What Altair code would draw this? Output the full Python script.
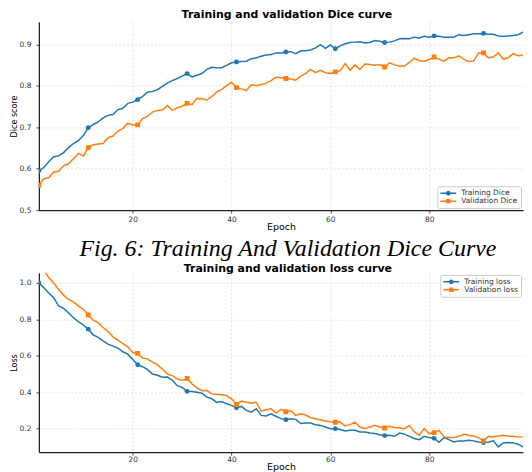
import altair as alt
import pandas as pd

epochs = list(range(1, 101))

train_dice = [0.595, 0.603, 0.617, 0.629, 0.631, 0.639, 0.651, 0.661, 0.668, 0.680,
              0.699, 0.707, 0.713, 0.723, 0.729, 0.731, 0.743, 0.746, 0.758, 0.761,
              0.767, 0.775, 0.785, 0.787, 0.791, 0.799, 0.807, 0.813, 0.818, 0.824,
              0.830, 0.822, 0.826, 0.830, 0.840, 0.845, 0.844, 0.844, 0.850, 0.856,
              0.858, 0.859, 0.860, 0.866, 0.868, 0.872, 0.875, 0.876, 0.880, 0.880,
              0.882, 0.883, 0.878, 0.885, 0.885, 0.887, 0.892, 0.900, 0.891, 0.899,
              0.890, 0.897, 0.902, 0.905, 0.906, 0.907, 0.904, 0.905, 0.910, 0.908,
              0.905, 0.906, 0.909, 0.914, 0.915, 0.914, 0.918, 0.916, 0.920, 0.918,
              0.921, 0.920, 0.918, 0.918, 0.918, 0.924, 0.922, 0.924, 0.926, 0.926,
              0.927, 0.925, 0.925, 0.921, 0.920, 0.921, 0.922, 0.924, 0.930, 0.932]

val_dice = [0.560, 0.576, 0.578, 0.592, 0.594, 0.607, 0.612, 0.624, 0.637, 0.631,
            0.651, 0.658, 0.660, 0.661, 0.675, 0.679, 0.691, 0.697, 0.710, 0.706,
            0.706, 0.721, 0.727, 0.737, 0.741, 0.742, 0.753, 0.741, 0.747, 0.751,
            0.758, 0.755, 0.770, 0.769, 0.766, 0.774, 0.786, 0.792, 0.801, 0.809,
            0.796, 0.793, 0.789, 0.803, 0.801, 0.803, 0.807, 0.813, 0.821, 0.820,
            0.818, 0.817, 0.814, 0.824, 0.830, 0.840, 0.832, 0.838, 0.832, 0.830,
            0.834, 0.837, 0.854, 0.838, 0.851, 0.840, 0.853, 0.852, 0.850, 0.852,
            0.846, 0.856, 0.851, 0.848, 0.848, 0.857, 0.867, 0.861, 0.860, 0.864,
            0.870, 0.865, 0.860, 0.868, 0.868, 0.873, 0.865, 0.859, 0.860, 0.880,
            0.880, 0.868, 0.870, 0.880, 0.865, 0.868, 0.878, 0.873, 0.874, 0.873]

train_loss = [1.000, 0.973, 0.945, 0.918, 0.873, 0.860, 0.836, 0.809, 0.787, 0.769,
              0.746, 0.715, 0.701, 0.682, 0.664, 0.653, 0.642, 0.622, 0.609, 0.580,
              0.551, 0.540, 0.524, 0.500, 0.493, 0.482, 0.484, 0.467, 0.436, 0.427,
              0.405, 0.404, 0.400, 0.395, 0.373, 0.364, 0.344, 0.349, 0.337, 0.328,
              0.315, 0.322, 0.300, 0.291, 0.309, 0.273, 0.270, 0.282, 0.268, 0.255,
              0.249, 0.254, 0.251, 0.228, 0.231, 0.231, 0.222, 0.218, 0.209, 0.200,
              0.200, 0.195, 0.187, 0.191, 0.191, 0.182, 0.182, 0.176, 0.173, 0.167,
              0.162, 0.164, 0.158, 0.176, 0.170, 0.158, 0.146, 0.140, 0.158, 0.151,
              0.147, 0.125, 0.151, 0.140, 0.127, 0.133, 0.133, 0.136, 0.133, 0.127,
              0.124, 0.127, 0.133, 0.100, 0.122, 0.124, 0.122, 0.115, 0.100, 0.095]

val_loss = [1.100, 1.070, 1.030, 1.000, 0.964, 0.933, 0.909, 0.896, 0.873, 0.855,
            0.824, 0.795, 0.782, 0.755, 0.733, 0.704, 0.686, 0.667, 0.649, 0.618,
            0.613, 0.588, 0.583, 0.565, 0.550, 0.527, 0.500, 0.491, 0.473, 0.464,
            0.476, 0.446, 0.424, 0.409, 0.409, 0.391, 0.387, 0.387, 0.382, 0.364,
            0.333, 0.351, 0.345, 0.340, 0.345, 0.296, 0.304, 0.309, 0.286, 0.306,
            0.293, 0.298, 0.273, 0.282, 0.275, 0.260, 0.254, 0.249, 0.242, 0.238,
            0.235, 0.236, 0.215, 0.222, 0.236, 0.209, 0.200, 0.209, 0.218, 0.209,
            0.204, 0.213, 0.206, 0.204, 0.200, 0.218, 0.182, 0.164, 0.200, 0.173,
            0.178, 0.191, 0.155, 0.151, 0.151, 0.158, 0.169, 0.164, 0.160, 0.151,
            0.133, 0.158, 0.155, 0.160, 0.164, 0.158, 0.158, 0.155, 0.155, 0.155]

dice_names = ["Training Dice", "Validation Dice"]
loss_names = ["Training loss", "Validation loss"]
x_ticks = [20, 40, 60, 80]
dice_ticks = [0.5, 0.6, 0.7, 0.8, 0.9]
loss_ticks = [0.2, 0.4, 0.6, 0.8, 1.0]
caption = "Fig. 6: Training And Validation Dice Curve"
dice_title = "Training and validation Dice curve"
loss_title = "Training and validation loss curve"

BLUE = "#1f77b4"
ORANGE = "#ff7f0e"
LINE_CIRCLE = "M-2,-0.19H2V0.19H-2Z M0.6,0A0.6,0.6 0 1,1 -0.6,0A0.6,0.6 0 1,1 0.6,0Z"
LINE_SQUARE = "M-2,-0.19H2V0.19H-2Z M-0.55,-0.55H0.55V0.55H-0.55Z"

W = 486
NBSP = "\u00a0"


def panel(train, val, names, ytitle, ydomain, yticks, height, legend_orient,
          label_pad, title_pad, title):
    df = pd.DataFrame({
        "epoch": epochs + epochs,
        "value": train + val,
        "series": [names[0]] * len(train) + [names[1]] * len(val),
    })
    x = alt.X("epoch:Q",
              scale=alt.Scale(domain=[1, 99], nice=False, zero=False),
              axis=alt.Axis(values=x_ticks, title="Epoch", labelFlush=False,
                            labelPadding=label_pad, tickSize=3, titlePadding=title_pad))
    y = alt.Y("value:Q",
              scale=alt.Scale(domain=ydomain, nice=False, zero=False),
              axis=alt.Axis(values=yticks, format=".1f", title=ytitle,
                            labelPadding=5, tickSize=3, titlePadding=1,
                            titleFont="DejaVu Sans Condensed, Roboto Condensed, Roboto",
                            titleFontSize=9))
    cscale = alt.Scale(domain=names, range=[BLUE, ORANGE])
    leg = alt.Legend(title=None, orient=legend_orient, offset=2,
                     fillColor="white", strokeColor="#cccccc", cornerRadius=2,
                     padding=3, labelFont="DejaVu Sans", labelFontSize=7.5,
                     labelColor="#333333", symbolSize=64, symbolStrokeWidth=0,
                     symbolOpacity=1, symbolOffset=4, rowPadding=-2, labelOffset=9)
    base = alt.Chart(df)
    lines = base.mark_line(strokeWidth=1.5, clip=True).encode(
        x=x, y=y, color=alt.Color("series:N", scale=cscale, legend=None))
    marks = base.transform_filter("(datum.epoch - 1) % 10 == 0").mark_point(
        filled=True, size=24, opacity=1, clip=True).encode(
        x=x, y=y,
        color=alt.Color("series:N", scale=cscale, legend=None),
        shape=alt.Shape("series:N", scale=alt.Scale(domain=names, range=["circle", "square"]), legend=None))
    legend_layer = base.transform_filter("(datum.epoch - 1) % 10 == 0").mark_point(
        filled=True, size=24, opacity=0, clip=True).encode(
        x=x, y=y,
        color=alt.Color("series:N", scale=cscale, legend=leg),
        shape=alt.Shape("series:N", scale=alt.Scale(domain=names, range=[LINE_CIRCLE, LINE_SQUARE]), legend=leg))
    return alt.layer(lines, marks, legend_layer).resolve_scale(
        color="independent", shape="independent").properties(
        width=W, height=height, title=title)


top_title = alt.TitleParams(dice_title, font="DejaVu Sans", fontSize=11, fontWeight="bold",
                            color="black", anchor="middle", offset=1.5, frame="group", dx=6)
bottom_title = alt.TitleParams(caption + NBSP * 10, subtitle=loss_title,
                               font="Liberation Serif", fontStyle="italic", fontSize=24,
                               fontWeight="normal", color="black",
                               subtitleFont="DejaVu Sans", subtitleFontSize=11,
                               subtitleFontWeight="bold", subtitleColor="black",
                               subtitlePadding=2, anchor="middle", offset=-1,
                               frame="group", dx=7)

top = panel(train_dice, val_dice, dice_names, "Dice score", [0.5, 0.955], dice_ticks,
            189, "bottom-right", 2, -1, top_title)
bottom = panel(train_loss, val_loss, loss_names, "Loss", [0.071, 1.055], loss_ticks,
               180, "top-right", 0, -1, bottom_title)

chart = alt.vconcat(top, bottom, spacing=4).properties(padding=0).configure_view(
    stroke="transparent").configure_axis(
    labelFont="DejaVu Sans", labelFontSize=7.5, labelColor="#333333",
    titleFont="DejaVu Sans", titleFontSize=9.5, titleFontWeight="normal", titleColor="black",
    domainColor="#222222", domainWidth=1.3, tickColor="#222222", tickWidth=0.8,
    grid=True, gridColor="#dddddd", gridDash=[2, 2], gridWidth=0.8)

chart.save("out.html", embed_options={"renderer": "svg", "actions": False})
